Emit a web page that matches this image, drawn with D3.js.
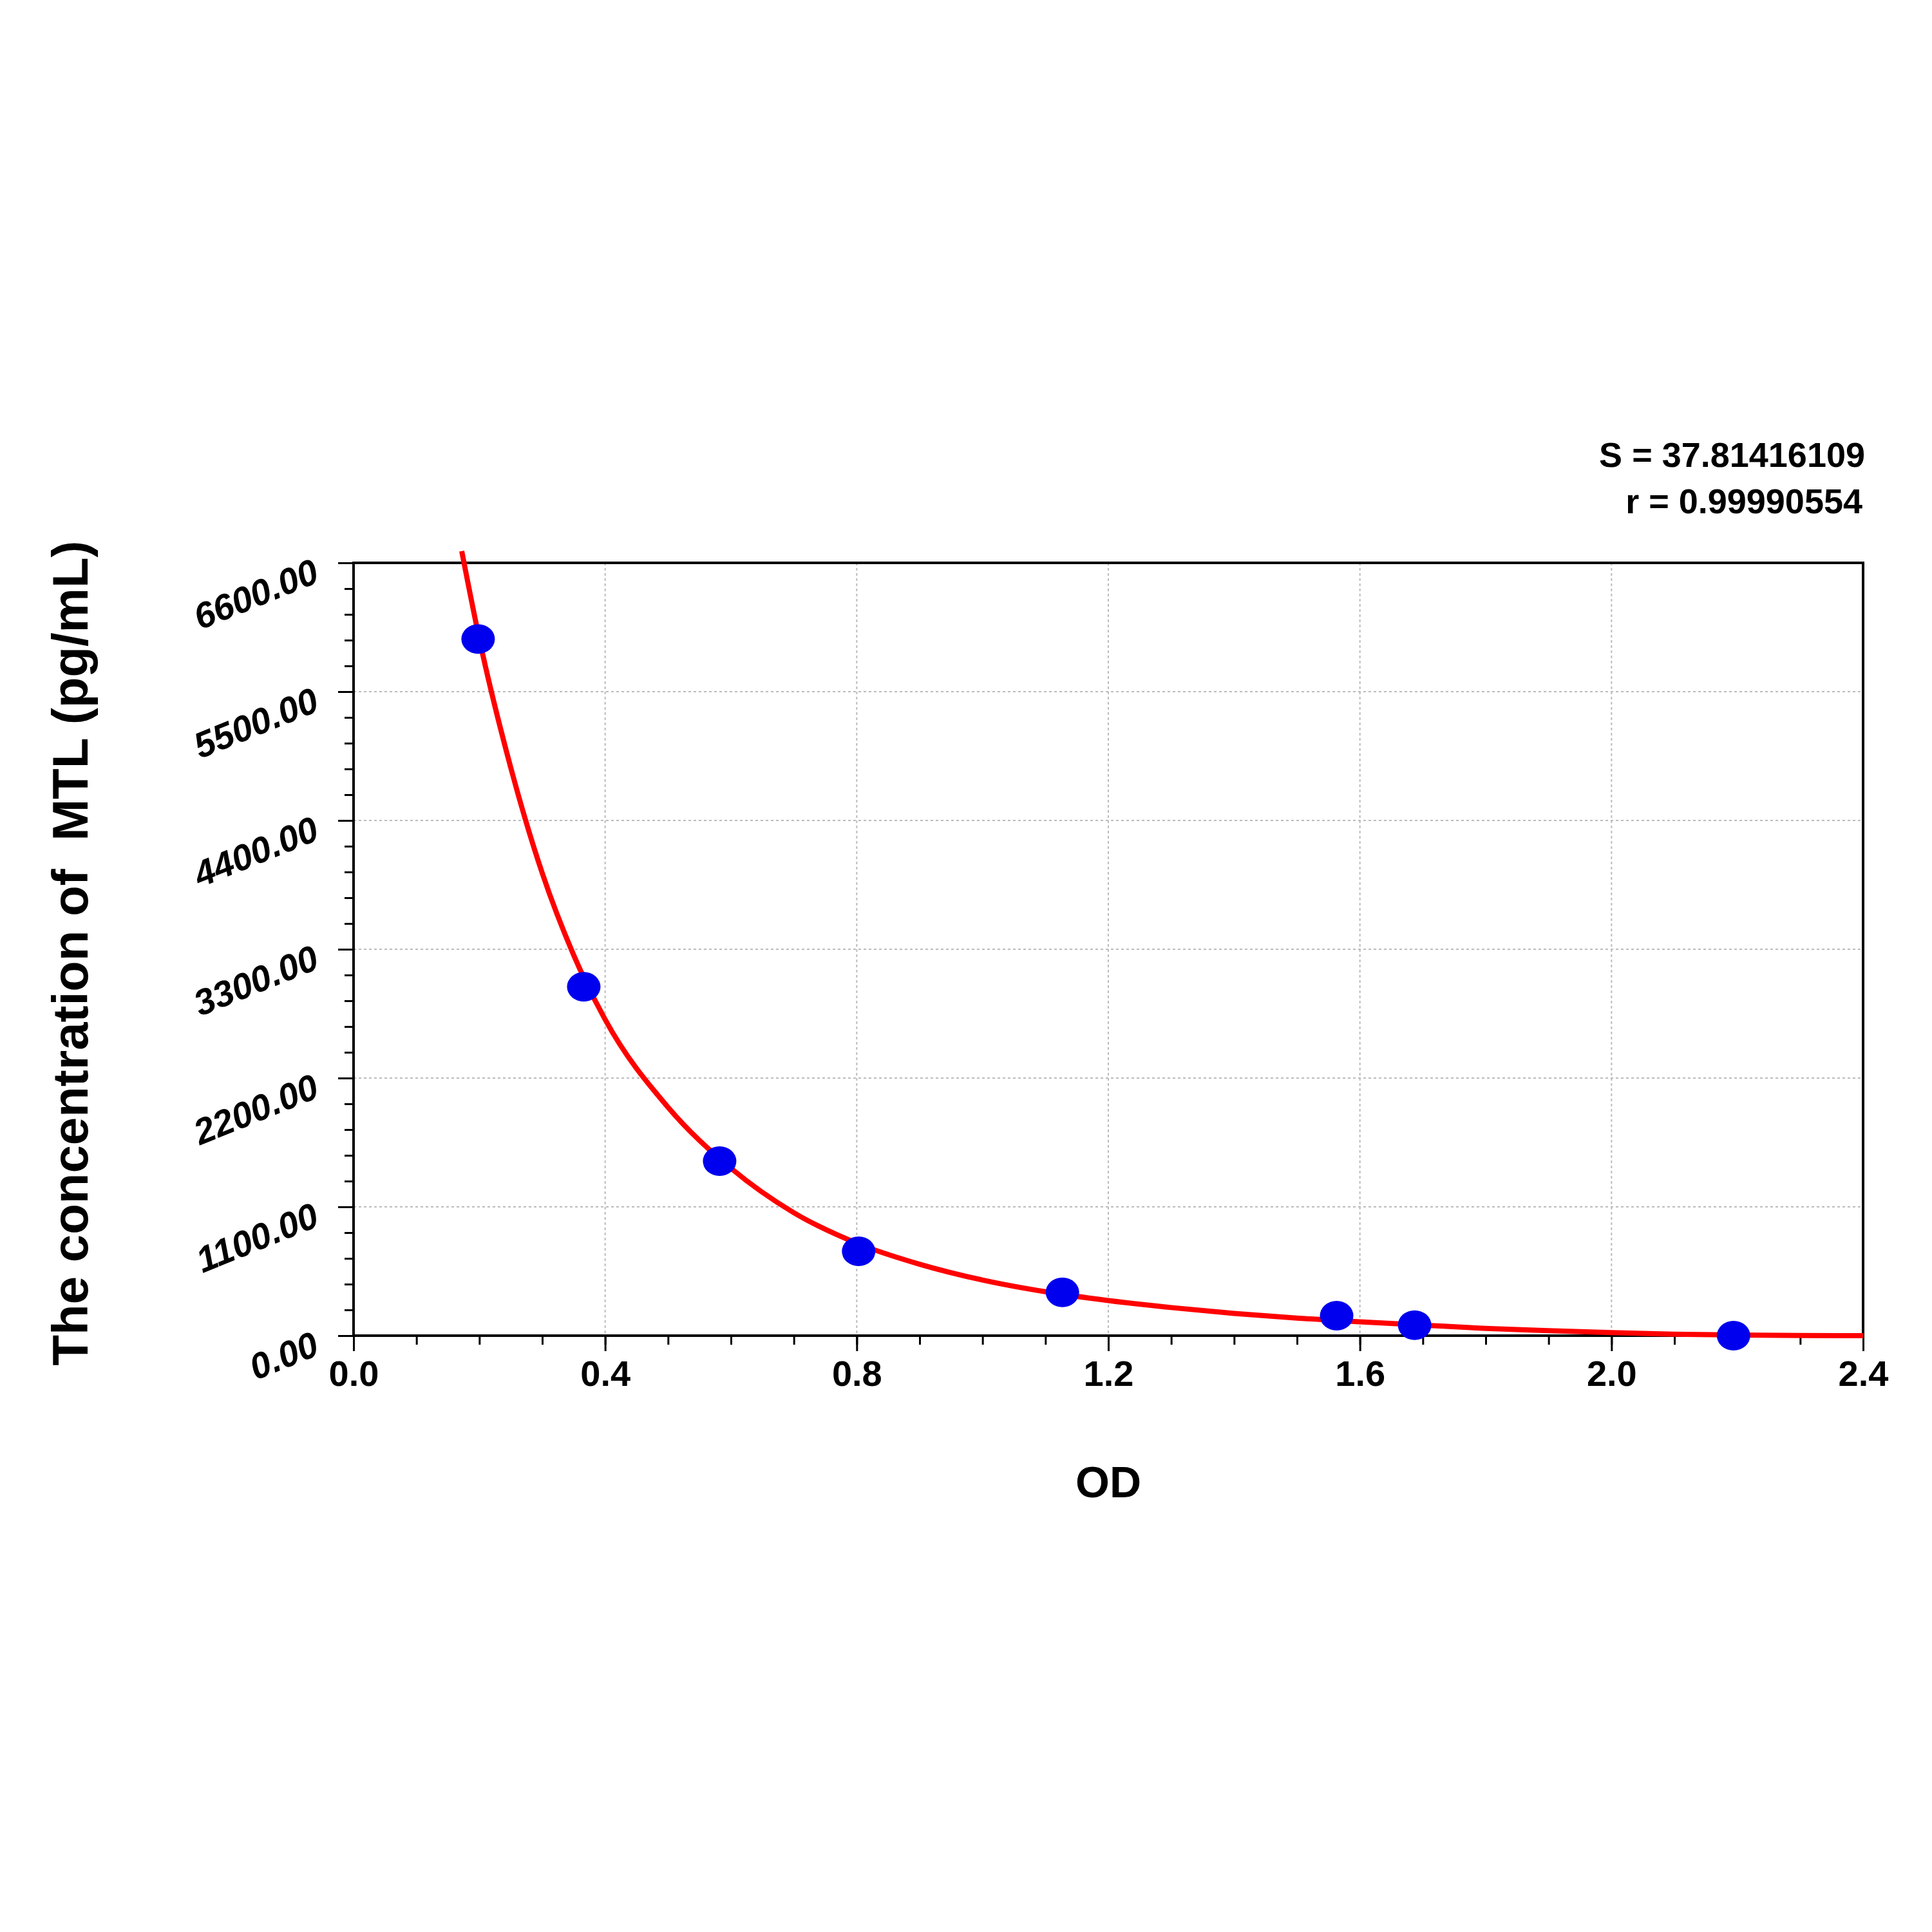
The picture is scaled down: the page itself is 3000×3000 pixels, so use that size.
<!DOCTYPE html>
<html><head><meta charset="utf-8">
<script src="https://cdn.jsdelivr.net/npm/d3@7"></script>
<style>body{margin:0;background:#fff}</style>
</head><body>
<div id="chart"></div>
<script>
// measured standards
var odValues = [0.198, 0.366, 0.582, 0.803, 1.127, 1.563, 1.687, 2.194];
var concValues = [5950, 2980, 1490, 720, 370, 170, 90, 0];
// fitted curve
var curveOd = [0.172, 0.2, 0.25, 0.3, 0.35, 0.4, 0.5, 0.6, 0.7, 0.8, 0.9, 1.0, 1.1, 1.2, 1.3, 1.4, 1.5, 1.6, 1.7, 1.8, 1.9, 2.0, 2.1, 2.2, 2.3, 2.4];
var curveConc = [6700, 5950, 4850, 3950, 3250, 2700, 1950, 1430, 1050, 790, 610, 475, 375, 300, 240, 190, 150, 118, 90, 62, 42, 26, 13, 6, 2, 0];
var xTicks = [0.0, 0.4, 0.8, 1.2, 1.6, 2.0, 2.4];
var yTicks = [0, 1100, 2200, 3300, 4400, 5500, 6600];

const margin = {top: 874, right: 107, bottom: 926, left: 549},
      width = 3000 - margin.left - margin.right,
      height = 3000 - margin.top - margin.bottom;
const font = "'Liberation Sans', Arial, sans-serif";

const svg = d3.select("#chart").append("svg")
    .attr("width", 3000).attr("height", 3000)
    .style("font-family", font);
const g = svg.append("g").attr("transform", `translate(${margin.left},${margin.top})`);

const x = d3.scaleLinear().domain([0, 2.4]).range([0, width]);
const y = d3.scaleLinear().domain([0, 6600]).range([height, 0]);

// grid
g.selectAll(".vg").data(xTicks.slice(1, -1)).enter().append("line")
    .attr("x1", d => x(d)).attr("x2", d => x(d)).attr("y1", 0).attr("y2", height)
    .attr("stroke", "#bbb").attr("stroke-width", 2).attr("stroke-dasharray", "4,4");
g.selectAll(".hg").data(yTicks.slice(1, -1)).enter().append("line")
    .attr("y1", d => y(d)).attr("y2", d => y(d)).attr("x1", 0).attr("x2", width)
    .attr("stroke", "#bbb").attr("stroke-width", 2).attr("stroke-dasharray", "4,4");

// minor ticks
g.append("g").attr("transform", `translate(0,${height})`)
    .call(d3.axisBottom(x).tickValues(d3.range(0, 24).map(i => i / 10)).tickSize(14).tickFormat(""))
    .call(a => a.selectAll("line,path").attr("stroke", "#000").attr("stroke-width", 3));
g.append("g")
    .call(d3.axisLeft(y).tickValues(d3.range(0, 31).map(i => i * 220)).tickSize(14).tickFormat(""))
    .call(a => a.selectAll("line,path").attr("stroke", "#000").attr("stroke-width", 3));

// major axes
g.append("g").attr("transform", `translate(0,${height})`)
    .call(d3.axisBottom(x).tickValues(xTicks).tickSize(24).tickPadding(14).tickFormat(d3.format(".1f")))
    .call(a => a.selectAll("line,path").attr("stroke", "#000").attr("stroke-width", 3))
    .call(a => a.selectAll("text").attr("fill", "#000").style("font-size", "56px").style("font-weight", "bold").style("font-family", font));
const ya = g.append("g")
    .call(d3.axisLeft(y).tickValues(yTicks).tickSize(24).tickFormat(""))
    .call(a => a.selectAll("line,path").attr("stroke", "#000").attr("stroke-width", 3));
ya.selectAll(".tick").append("text")
    .attr("transform", "translate(-58,10) rotate(-22)")
    .attr("text-anchor", "end").attr("dy", "0.35em")
    .attr("fill", "#000").style("font-size", "56px").style("font-weight", "bold").style("font-style", "italic")
    .text(d => d.toFixed(2));

// frame
g.append("rect").attr("width", width).attr("height", height)
    .attr("fill", "none").attr("stroke", "#000").attr("stroke-width", 4);

// curve
const line = d3.line().x(d => x(d[0])).y(d => y(d[1])).curve(d3.curveMonotoneX);
g.append("path").datum(curveOd.map((v, i) => [v, curveConc[i]]))
    .attr("d", line).attr("fill", "none").attr("stroke", "#f00").attr("stroke-width", 8);

// points
g.selectAll(".dot").data(odValues.map((v, i) => [v, concValues[i]])).enter().append("ellipse")
    .attr("cx", d => x(d[0])).attr("cy", d => y(d[1])).attr("rx", 26).attr("ry", 23)
    .attr("fill", "#0000ee");

// titles
svg.append("text").attr("x", margin.left + width / 2).attr("y", 2325)
    .attr("text-anchor", "middle").style("font-size", "68px").style("font-weight", "bold").text("OD");
svg.append("text").attr("transform", "translate(136,1480) rotate(-90)")
    .attr("text-anchor", "middle").style("font-size", "78px").style("font-weight", "bold")
    .attr("xml:space", "preserve").text("The concentration of  MTL (pg/mL)");
svg.append("text").attr("x", 2896).attr("y", 725).attr("text-anchor", "end")
    .style("font-size", "54px").style("font-weight", "bold").text("S = 37.81416109");
svg.append("text").attr("x", 2892).attr("y", 797).attr("text-anchor", "end")
    .style("font-size", "54px").style("font-weight", "bold").text("r = 0.99990554");
</script>
</body></html>
